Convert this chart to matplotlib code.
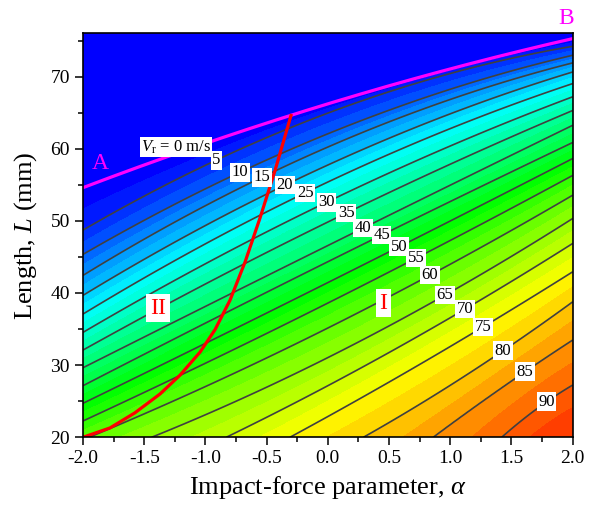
import numpy as np
import matplotlib
matplotlib.use('Agg')
import matplotlib.pyplot as plt
from matplotlib.colors import LinearSegmentedColormap
from matplotlib.ticker import MultipleLocator, FormatStrFormatter

plt.rcParams['font.family'] = ['Liberation Serif', 'DejaVu Serif']
plt.rcParams['mathtext.fontset'] = 'custom'
plt.rcParams['mathtext.rm'] = 'Liberation Serif'
plt.rcParams['mathtext.it'] = 'Liberation Serif:italic'
plt.rcParams['axes.unicode_minus'] = False

# ---- data: contour lines of V_r (m/s) ----
levels = [0, 5, 10, 15, 20, 25, 30, 35, 40, 45, 50, 55, 60, 65, 70, 75, 80, 85, 90]
# where each line enters the plot (left edge or bottom edge)
start_alpha = [-2.0] * 12 + [-1.95, -1.44, -0.83, -0.31, 0.29, 0.86, 1.42]
start_L = [54.6, 48.71, 45.35, 42.44, 39.67, 37.08, 34.54, 32.09, 29.64, 27.15,
           24.71, 22.26, 20.0, 20.0, 20.0, 20.0, 20.0, 20.0, 20.0]
# a point in the middle of each line (label positions)
mid_alpha = [-0.30, -0.913, -0.717, -0.538, -0.35, -0.186, -0.009, 0.149, 0.288,
             0.440, 0.582, 0.721, 0.835, 0.958, 1.121, 1.266, 1.431, 1.611, 1.788]
mid_L = [64.64, 58.4, 56.74, 56.05, 54.95, 53.88, 52.59, 51.07, 48.99, 48.03,
         46.4, 44.83, 42.48, 39.71, 37.77, 35.28, 31.99, 29.09, 24.93]
# where each line leaves the plot at alpha = 2
end_L = [75.26, 74.2, 72.95, 71.9, 70.64, 69.03, 67.2, 65.3, 63.25, 60.86,
         58.64, 56.3, 53.56, 50.33, 46.87, 42.94, 38.78, 33.48, 27.24]

# boundary between regions I and II (red curve)
red_alpha = [-2.0, -1.779, -1.575, -1.371, -1.208, -1.044, -0.922, -0.799,
             -0.676, -0.554, -0.431, -0.301]
red_L = [20.0, 21.3, 23.4, 26.0, 28.6, 31.8, 34.9, 39.0, 44.3, 50.4, 57.0, 64.6]

# ---- build the field from the contour lines ----
a_grid = np.linspace(-2, 2, 600)
L_grid = np.linspace(20, 76, 600)
lev = np.array(levels, dtype=float)
Lc = np.array([np.polyval(np.polyfit([sa, ma, 2.0], [sl, ml, el], 2), a_grid)
               for sa, sl, ma, ml, el in zip(start_alpha, start_L, mid_alpha, mid_L, end_L)])
Lc = np.vstack([Lc, 2 * Lc[-1] - Lc[-2]])
lev_ext = np.append(lev, lev[-1] + 5)
V = np.empty((L_grid.size, a_grid.size))
for j in range(a_grid.size):
    Ls = np.minimum.accumulate(Lc[:, j]) - 1e-6 * np.arange(len(lev_ext))
    V[:, j] = np.interp(L_grid, Ls[::-1], lev_ext[::-1])

cmap = LinearSegmentedColormap.from_list(
    'rb', [(0, '#0000ff'), (0.24, '#00ffff'), (0.5, '#00ff00'),
           (0.74, '#ffff00'), (0.97, '#ff1000'), (1.0, '#ff0000')])
fill_levels = np.arange(0, 97.6, 2.5)
band_colors = [cmap(v / 100.0) for v in fill_levels[:-1]]

fig = plt.figure(figsize=(5.89, 5.09), dpi=100)
ax = fig.add_axes([0.1409, 0.1409, 0.8314, 0.7937])
A, LL = np.meshgrid(a_grid, L_grid)
ax.contourf(A, LL, V, levels=fill_levels, colors=band_colors, antialiased=False)
ax.contour(A, LL, V, levels=levels[1:], colors='#404040', linewidths=1.2)

# zero line (magenta)
zero_curve = np.polyval(np.polyfit([start_alpha[0], mid_alpha[0], 2.0],
                                   [start_L[0], mid_L[0], end_L[0]], 2), a_grid)
ax.plot(a_grid, zero_curve, color='#ff00ff', lw=2.3, zorder=4)
ax.plot(red_alpha, red_L, color='#ff0000', lw=2.3, zorder=4)

box = dict(boxstyle='square,pad=0.08', fc='white', ec='none')
for lv, ma, ml in zip(levels[1:], mid_alpha[1:], mid_L[1:]):
    ax.text(ma, ml, str(lv), fontsize=12, ha='center', va='center', bbox=box, zorder=6)
ax.text(-1.24, 60.2, r'$V_{\rm r}$ = 0 m/s', fontsize=12, ha='center', va='center',
        bbox=box, zorder=6)
ax.text(-1.387, 37.9, 'II', fontsize=17, color='#ff0000', ha='center', va='center',
        bbox=dict(boxstyle='square,pad=0.15', fc='white', ec='none'), zorder=6)
ax.text(0.451, 38.6, 'I', fontsize=17, color='#ff0000', ha='center', va='center',
        bbox=dict(boxstyle='square,pad=0.15', fc='white', ec='none'), zorder=6)
ax.text(-1.86, 57.9, 'A', fontsize=17, color='#ff00ff', ha='center', va='center', zorder=6)
ax.text(1.946, 78.1, 'B', fontsize=17, color='#ff00ff', ha='center', va='center',
        zorder=6, clip_on=False)

ax.set_xlim(-2, 2)
ax.set_ylim(20, 76)
ax.xaxis.set_major_locator(MultipleLocator(0.5))
ax.xaxis.set_minor_locator(MultipleLocator(0.25))
ax.xaxis.set_major_formatter(FormatStrFormatter('%.1f'))
ax.yaxis.set_major_locator(MultipleLocator(10))
ax.yaxis.set_minor_locator(MultipleLocator(5))
ax.tick_params(which='both', direction='out', top=False, right=False, labelsize=14,
               width=1.1)
ax.tick_params(which='major', length=6)
ax.tick_params(which='minor', length=3.5)
for s in ax.spines.values():
    s.set_linewidth(1.2)
    s.set_zorder(7)
ax.set_xlabel(r'Impact-force parameter, $\alpha$', fontsize=19, labelpad=5)
ax.set_ylabel(r'Length, $L$ (mm)', fontsize=19, labelpad=8)

fig.savefig('out.png', dpi=100)
